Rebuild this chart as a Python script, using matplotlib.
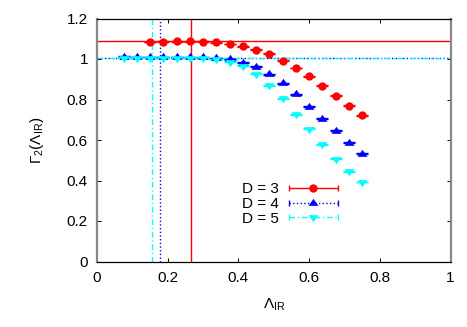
import numpy as np
import matplotlib
matplotlib.use("Agg")
import matplotlib.pyplot as plt
from matplotlib.lines import Line2D
from matplotlib.collections import LineCollection
from matplotlib.container import ErrorbarContainer
from matplotlib.legend_handler import HandlerErrorbar
from matplotlib.path import Path

plt.rcParams['font.family'] = ['Liberation Sans', 'DejaVu Sans']
plt.rcParams['mathtext.fontset'] = 'custom'
plt.rcParams['mathtext.rm'] = 'Liberation Sans'
plt.rcParams['mathtext.it'] = 'Liberation Sans:italic'

# ---- data ----
x_d3 = [0.15, 0.1875, 0.225, 0.2625, 0.3, 0.3375, 0.375, 0.4125, 0.45, 0.4875,
        0.525, 0.5625, 0.6, 0.6375, 0.675, 0.7125, 0.75]
y_d3 = [1.084, 1.085, 1.087, 1.087, 1.085, 1.082, 1.074, 1.062, 1.046, 1.026,
        0.992, 0.956, 0.914, 0.868, 0.819, 0.769, 0.721]

x_d4 = [0.075, 0.1125, 0.15, 0.1875, 0.225, 0.2625, 0.3, 0.3375, 0.375, 0.4125,
        0.45, 0.4875, 0.525, 0.5625, 0.6, 0.6375, 0.675, 0.7125, 0.75]
y_d4 = [1.012, 1.010, 1.010, 1.010, 1.010, 1.009, 1.008, 1.003, 0.998, 0.982,
        0.961, 0.925, 0.880, 0.826, 0.764, 0.705, 0.645, 0.587, 0.533]

x_d5 = [0.075, 0.1125, 0.15, 0.1875, 0.225, 0.2625, 0.3, 0.3375, 0.375, 0.4125,
        0.45, 0.4875, 0.525, 0.5625, 0.6, 0.6375, 0.675, 0.7125, 0.75]
y_d5 = [1.006, 1.006, 1.006, 1.006, 1.006, 1.006, 1.006, 0.999, 0.986, 0.966,
        0.928, 0.871, 0.805, 0.726, 0.655, 0.578, 0.508, 0.446, 0.393]

yerr_small = 0.002

labels = ["D = 3", "D = 4", "D = 5"]
hline_y = [1.088, 1.006, 1.003]
vline_x = [0.265, 0.177, 0.157]

x_ticks = [0, 0.2, 0.4, 0.6, 0.8, 1.0]
x_ticklabels = ["0", "0.2", "0.4", "0.6", "0.8", "1"]
y_ticks = [0, 0.2, 0.4, 0.6, 0.8, 1.0, 1.2]
y_ticklabels = ["0", "0.2", "0.4", "0.6", "0.8", "1", "1.2"]

# ---- styles ----
colors = ['#ff0000', '#0000ff', '#00ffff']
linestyles = ['-', ':', (0, (4, 2, 1, 2))]
tri_up = Path([(0, 0.933), (-1.0, -0.467), (1.0, -0.467), (0, 0.933)],
              [Path.MOVETO, Path.LINETO, Path.LINETO, Path.CLOSEPOLY])
tri_dn = Path([(0, -0.933), (-1.0, 0.467), (1.0, 0.467), (0, -0.933)],
              [Path.MOVETO, Path.LINETO, Path.LINETO, Path.CLOSEPOLY])
markers = ['o', tri_up, tri_dn]
msizes = [6.0, 7.2, 7.2]

fig = plt.figure(figsize=(4.67, 3.27), dpi=100)
ax = fig.add_axes([97 / 467, 1 - 261.5 / 327, (450.5 - 97) / 467, (261.5 - 18.5) / 327])

series = [(x_d3, y_d3), (x_d4, y_d4), (x_d5, y_d5)]
handles = []
for (xs, ys), c, ls, m, ms, lab, hy, vx in zip(series, colors, linestyles, markers,
                                               msizes, labels, hline_y, vline_x):
    ax.axhline(hy, color=c, lw=1.0, ls=ls, zorder=1)
    ax.axvline(vx, color=c, lw=1.0, ls=ls, zorder=1)
    ax.errorbar(xs, ys, yerr=yerr_small, fmt='none', ecolor=c, elinewidth=1.0,
                capsize=4.3, capthick=1.0, zorder=3)
    ax.plot(xs, ys, linestyle='none', marker=m, markersize=ms, color=c,
            markeredgewidth=0, zorder=4)
    # legend proxy (gnuplot-like errorbar sample)
    pl = Line2D([], [], color=c, marker=m, markersize=ms, linestyle='none',
                markeredgewidth=0)
    cap = Line2D([], [], color=c, marker='|', markersize=4.5, linestyle='none',
                 markeredgewidth=1.0)
    bar = LineCollection([], colors=[c], linestyles=[ls], linewidths=[1.0])
    handles.append(ErrorbarContainer((pl, (cap,), (bar,)), has_xerr=True,
                                     has_yerr=False, label=lab))

ax.set_xlim(0, 1)
ax.set_ylim(0, 1.2)
ax.set_xticks(x_ticks)
ax.set_xticklabels(x_ticklabels)
ax.set_yticks(y_ticks)
ax.set_yticklabels(y_ticklabels)
ax.tick_params(direction='in', length=3.2, width=0.7, color='black',
               top=True, right=True, labelsize=11)
ax.tick_params(axis='x', pad=7)
ax.tick_params(axis='y', pad=6.5)

for s in ['left', 'right']:
    ax.spines[s].set_color('#888888')
    ax.spines[s].set_linewidth(1.6)
for s in ['top', 'bottom']:
    ax.spines[s].set_color('black')
    ax.spines[s].set_linewidth(0.9)

ax.set_xlabel(r'$\Lambda_{\mathrm{IR}}$', fontsize=11, labelpad=8)
ax.set_ylabel(r'$\Gamma_2$($\Lambda_{\mathrm{IR}}$)', fontsize=11, labelpad=15)

hl = 3.2
ax.legend(handles=handles, loc='upper left',
          bbox_to_anchor=(242 / 467, 1 - 182 / 327), bbox_transform=fig.transFigure,
          frameon=False, markerfirst=False, fontsize=11, borderpad=0,
          borderaxespad=0, handlelength=hl, handletextpad=0.65,
          labelspacing=0.06,
          handler_map={ErrorbarContainer: HandlerErrorbar(xerr_size=hl / 2)})

fig.savefig('out.png', dpi=100)
